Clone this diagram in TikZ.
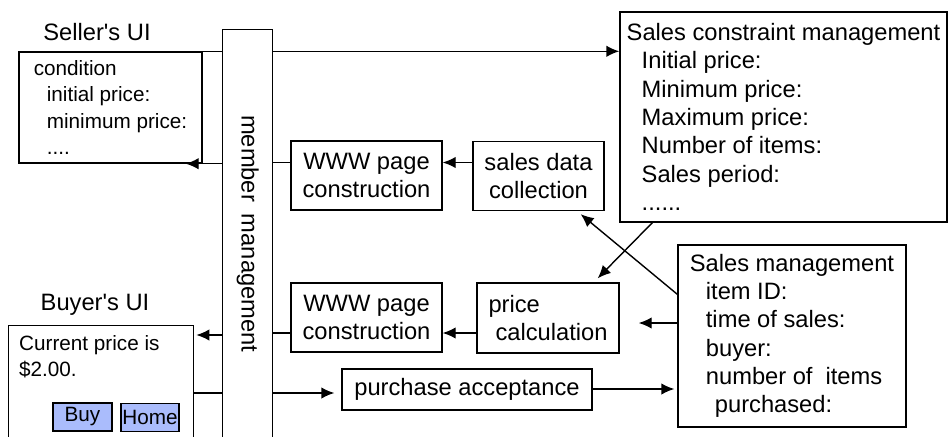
\documentclass[tikz,border=0pt]{standalone}
\usepackage{fontspec}
\setmainfont{Liberation Sans}
\usetikzlibrary{arrows.meta,calc}
\definecolor{btnblue}{RGB}{170,188,252}
\newcommand\lgtxt{\fontsize{23.7}{28.3}\selectfont}
\newcommand\smtxt{\fontsize{20.7}{26.5}\selectfont}
\begin{document}
\begin{tikzpicture}[x=1pt,y=-1pt,
  box/.style={draw, line width=1.4pt, inner sep=0pt, align=left},
  conn/.style={line width=1.4pt},
  arr/.style={conn, -{Latex[length=13pt,width=11.5pt]}},
  btn/.style={draw, line width=1.2pt, fill=btnblue, minimum height=28, inner sep=0pt, font=\smtxt}]
\clip (0,0) rectangle (949,436);
\fill[white] (0,0) rectangle (949,436);

% row heights of the horizontal connectors
\coordinate (rowA) at (0,162.5);
\coordinate (rowB) at (0,333);
\coordinate (rowC) at (0,323);
\coordinate (rowD) at (0,335);
\coordinate (rowE) at (0,393);
\coordinate (rowF) at (0,389);

% seller side
\node[font=\lgtxt] (sellerlbl) at (97,32) {Seller\textquotesingle s UI};
\node[box, font=\smtxt, minimum width=183, minimum height=111] (seller) at (110.5,107.5)
  {condition\\\hspace*{13pt}initial price:\\\hspace*{13pt}minimum price:\\\hspace*{13pt}....};

% member management column
\node[box, anchor=north west, minimum width=50, minimum height=412] (member) at (222,29) {};
\node[rotate=-90, font=\lgtxt] (membertxt) at ($(member.center)+(0,-2)$) {member\hspace{0.5em}management};

% sales constraint management
\node[box, font=\lgtxt, minimum width=327, minimum height=210] (scm) at (783.5,117)
  {Sales constraint management\\\hspace*{15pt}Initial price:\\\hspace*{15pt}Minimum price:\\
   \hspace*{15pt}Maximum price:\\\hspace*{15pt}Number of items:\\\hspace*{15pt}Sales period:\\
   \hspace*{15pt}......};

% upper processing row
\node[box, align=center, font=\lgtxt, minimum width=151, minimum height=69] (www1) at (366.5,175.5) {WWW page\\construction};
\node[box, align=center, font=\lgtxt, minimum width=131, minimum height=69] (salesdata) at (538.5,176) {sales data\\collection};

% lower processing row
\node[box, align=center, font=\lgtxt, minimum width=151, minimum height=69] (www2) at (366.5,317.5) {WWW page\\construction};
\node[box, font=\lgtxt, minimum width=142, minimum height=70] (pricecalc) at (548,318) {price\\\hspace*{7pt}calculation};
\node[box, font=\lgtxt, minimum width=250, minimum height=41] (purchase) at (467,389.5) {purchase acceptance};

% sales management
\node[box, font=\lgtxt, minimum width=228, minimum height=182] (smgmt) at (792,336)
  {Sales management\\\hspace*{16pt}item ID:\\\hspace*{16pt}time of sales:\\\hspace*{16pt}buyer:\\
   \hspace*{16pt}number of\hspace{0.55em}items\\\hspace*{25pt}purchased:};

% buyer side
\node[font=\lgtxt] (buyerlbl) at (95,305) {Buyer\textquotesingle s UI};
\node[box, anchor=north west, minimum width=185, minimum height=130] (buyer) at (8,325) {};
\node[font=\smtxt, align=left, anchor=north west, inner sep=0pt] (buyertxt) at (19,335) {Current price is\\\$2.00.};
\node[btn, minimum width=59] (buy) at (82.5,417) {Buy};
\node[btn, minimum width=58] (home) at (150,417.5) {Home};

% connectors
\draw[conn] (seller.north east) -- (seller.north east -| member.west);
\draw[arr] (member.west |- seller.south) -- ($(seller.south east)+(-17,0)$);
\draw[arr] (member.east |- seller.north) -- (scm.west |- seller.north);

\draw[conn] (member.east |- rowA) -- (www1.west |- rowA);
\draw[arr] (salesdata.west |- rowA) -- (www1.east |- rowA);

\draw[arr] ($(smgmt.north west)+(0,50)$) -- ($(salesdata.south east)+(-24,3)$);
\draw[arr] ($(scm.south west)+(33,0)$) -- ($(pricecalc.north east)+(-22,-4)$);

\draw[conn] (member.east |- rowB) -- (www2.west |- rowB);
\draw[arr] (pricecalc.west |- rowB) -- (www2.east |- rowB);
\draw[arr] (smgmt.west |- rowC) -- ($(pricecalc.east |- rowC)+(19,0)$);

\draw[arr] (member.west |- rowD) -- ($(buyer.east |- rowD)+(2,0)$);
\draw[conn] (buyer.east |- rowE) -- (member.west |- rowE);
\draw[arr] (member.east |- rowE) -- ($(purchase.west |- rowE)+(-7,0)$);
\draw[arr] (purchase.east |- rowF) -- ($(smgmt.west |- rowF)+(-3,0)$);
\end{tikzpicture}
\end{document}
